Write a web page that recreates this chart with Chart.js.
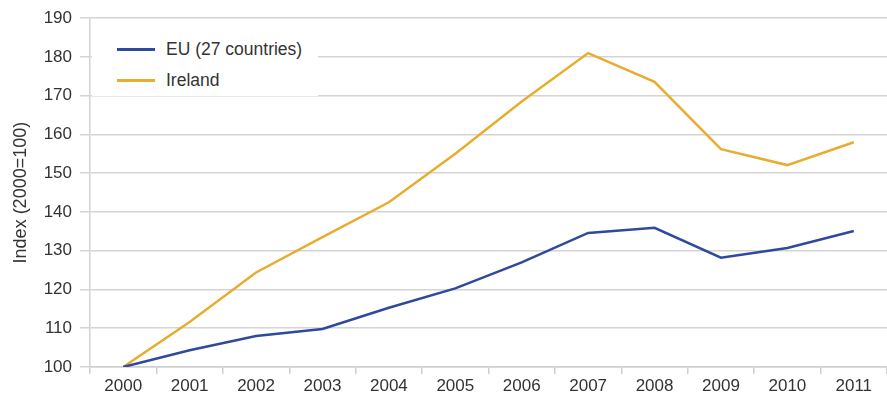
<!DOCTYPE html>
<html>
<head>
<meta charset="utf-8">
<script src="https://cdn.jsdelivr.net/npm/chart.js@4/dist/chart.umd.min.js"></script>
<style>
  html, body { margin: 0; padding: 0; background: #fff; }
  #wrap { position: relative; width: 887px; height: 402px; }
  #legend { position: absolute; left: 92px; top: 30px; width: 226px; height: 66px; background: #fff;
            font-family: "Liberation Sans", Arial, Helvetica, sans-serif; font-size: 17.5px; color: #333; }
  .item { position: absolute; left: 25px; height: 20px; display: flex; align-items: center; }
  .swatch { width: 38px; height: 3px; margin-right: 11px; }
</style>
</head>
<body>
<div id="wrap">
  <canvas id="c" width="887" height="402"></canvas>
  <div id="legend"></div>
</div>
<script>
const years = ["2000","2001","2002","2003","2004","2005","2006","2007","2008","2009","2010","2011"];
const euValues = [100, 104.3, 108, 109.8, 115.3, 120.3, 127, 134.6, 135.9, 128.2, 130.7, 135.1];
const irelandValues = [100, 111.6, 124.4, 133.5, 142.5, 155, 168.5, 181, 173.6, 156.2, 152.1, 158];
const seriesNames = ["EU (27 countries)", "Ireland"];
const seriesColors = ["#2f4a9a", "#e8ad2e"];
const yTitle = "Index (2000=100)";

const FONT = "'Liberation Sans', Arial, Helvetica, sans-serif";

const chart = new Chart(document.getElementById('c'), {
  type: 'line',
  data: {
    labels: years,
    datasets: [
      { label: seriesNames[0], data: euValues, borderColor: seriesColors[0], backgroundColor: seriesColors[0], borderWidth: 2.5, pointRadius: 0, tension: 0 },
      { label: seriesNames[1], data: irelandValues, borderColor: seriesColors[1], backgroundColor: seriesColors[1], borderWidth: 2.5, pointRadius: 0, tension: 0 }
    ]
  },
  options: {
    responsive: false,
    animation: false,
    layout: { padding: { top: 17, right: 0, left: 0, bottom: 0 } },
    plugins: { legend: { display: false }, tooltip: { enabled: false } },
    scales: {
      x: {
        offset: true,
        grid: { offset: true, drawOnChartArea: false, drawTicks: true, tickLength: 7, color: '#cfcfcf', lineWidth: 1.5 },
        border: { color: '#cfcfcf', width: 1.5 },
        ticks: { color: '#333', font: { family: FONT, size: 17 }, padding: 2, maxRotation: 0 },
        afterFit: (s) => { s.height = 35; }
      },
      y: {
        min: 100, max: 190,
        grid: { color: '#d4d4d4', lineWidth: 1.5, tickLength: 10 },
        border: { color: '#d4d4d4', width: 1.5 },
        ticks: { stepSize: 10, color: '#333', font: { family: FONT, size: 17 }, padding: 8 },
        title: { display: true, text: yTitle, color: '#333', font: { family: FONT, size: 18 }, padding: { top: 10, bottom: 0 } },
        afterFit: (s) => { s.width = 90; }
      }
    }
  }
});

const legend = document.getElementById('legend');
chart.data.datasets.forEach((ds, i) => {
  const item = document.createElement('div');
  item.className = 'item';
  item.style.top = (9 + i * 31) + 'px';
  const sw = document.createElement('span');
  sw.className = 'swatch';
  sw.style.background = ds.borderColor;
  const tx = document.createElement('span');
  tx.textContent = ds.label;
  item.appendChild(sw);
  item.appendChild(tx);
  legend.appendChild(item);
});
</script>
</body>
</html>
